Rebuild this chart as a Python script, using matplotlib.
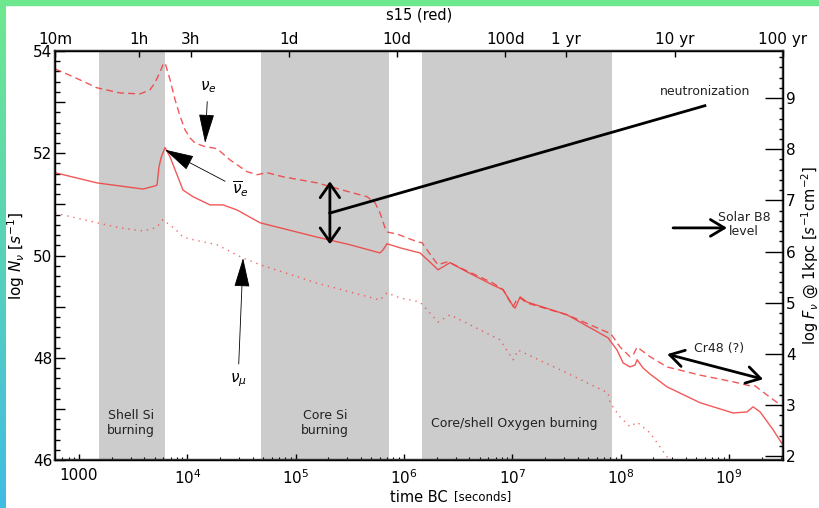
import numpy as np
import matplotlib
matplotlib.use("Agg")
import matplotlib.pyplot as plt
from matplotlib.patches import Rectangle
from matplotlib.ticker import MultipleLocator, FuncFormatter, NullFormatter, FixedLocator

# ---------------- data (log10 time [s], log N) ----------------
nue_logt = [2.778, 2.963, 3.166, 3.378, 3.563, 3.655, 3.701, 3.748, 3.775, 3.794,
            3.840, 3.886, 3.932, 3.978, 4.025, 4.071, 4.163, 4.274, 4.394, 4.551,
            4.643, 4.736, 4.883, 5.197, 5.502, 5.659, 5.733, 5.779, 5.825, 5.843,
            5.936, 6.121, 6.167, 6.259, 6.314, 6.407, 6.518, 6.702, 6.822, 6.915,
            7.007, 7.035, 7.072, 7.136, 7.506, 7.875, 7.903, 7.995, 8.087, 8.115,
            8.152, 8.272, 8.429, 8.734, 9.038, 9.195, 9.241, 9.352, 9.499]
nue_logN = [53.65, 53.48, 53.28, 53.18, 53.16, 53.24, 53.38, 53.59, 53.73, 53.77,
            53.44, 53.05, 52.73, 52.46, 52.30, 52.20, 52.13, 52.09, 51.87, 51.64,
            51.58, 51.62, 51.54, 51.42, 51.24, 51.15, 51.03, 50.83, 50.54, 50.46,
            50.42, 50.27, 50.25, 49.97, 49.82, 49.88, 49.76, 49.58, 49.46, 49.33,
            49.00, 49.11, 49.17, 49.07, 48.84, 48.50, 48.49, 48.21, 48.02, 48.05,
            48.21, 48.02, 47.82, 47.66, 47.53, 47.45, 47.45, 47.27, 47.04]

anue_logt = [2.778, 3.166, 3.378, 3.591, 3.701, 3.720, 3.738, 3.757, 3.775, 3.794,
             3.840, 3.886, 3.960, 4.052, 4.209, 4.329, 4.459, 4.671, 5.197, 5.502,
             5.779, 5.807, 5.843, 5.964, 6.148, 6.241, 6.314, 6.425, 6.582, 6.822,
             6.915, 7.007, 7.026, 7.072, 7.136, 7.506, 7.884, 7.967, 8.023, 8.087,
             8.134, 8.152, 8.207, 8.272, 8.429, 8.734, 9.038, 9.167, 9.223, 9.288,
             9.408, 9.499]
anue_logN = [51.62, 51.42, 51.36, 51.30, 51.36, 51.38, 51.73, 51.91, 52.01, 52.11,
             51.93, 51.68, 51.28, 51.15, 50.99, 50.99, 50.89, 50.64, 50.36, 50.21,
             50.05, 50.11, 50.23, 50.15, 50.05, 49.87, 49.72, 49.86, 49.68, 49.42,
             49.33, 49.01, 48.97, 49.19, 49.09, 48.84, 48.39, 48.15, 47.90, 47.82,
             47.86, 47.96, 47.80, 47.68, 47.43, 47.12, 46.92, 46.94, 47.04, 46.94,
             46.59, 46.29]

numu_logt = [2.778, 3.166, 3.378, 3.591, 3.701, 3.720, 3.775, 3.886, 3.960, 4.052,
             4.274, 4.514, 4.671, 5.197, 5.779, 5.843, 5.964, 6.148, 6.314, 6.425,
             6.887, 7.007, 7.053, 7.506, 7.884, 7.903, 7.995, 8.087, 8.152, 8.272,
             8.429, 8.475]
numu_logN = [50.83, 50.64, 50.54, 50.48, 50.54, 50.56, 50.70, 50.52, 50.36, 50.31,
             50.21, 49.95, 49.82, 49.46, 49.13, 49.27, 49.17, 49.09, 48.70, 48.84,
             48.35, 47.96, 48.15, 47.70, 47.31, 47.12, 46.84, 46.65, 46.74, 46.53,
             46.06, 45.90]

# burning phases: (start [s], end [s], label)
phase_start = [1.53e3, 4.8e4, 1.47e6]
phase_end = [6.2e3, 7.3e5, 8.3e7]
phase_labels = ["Shell Si\nburning", "Core Si\nburning", "Core/shell Oxygen burning"]
phase_label_t = [3.0e3, 1.87e5, 1.04e7]

# bottom axis ticks
bottom_tick_seconds = [1e3, 1e4, 1e5, 1e6, 1e7, 1e8, 1e9]
bottom_tick_labels = ["1000", "$10^{4}$", "$10^{5}$", "$10^{6}$", "$10^{7}$",
                      "$10^{8}$", "$10^{9}$"]

# top axis time labels
top_tick_seconds = [600, 3600, 10800, 86400, 864000, 8640000, 3.156e7, 3.156e8, 3.156e9]
top_tick_labels = ["10m", "1h", "3h", "1d", "10d", "100d", "1 yr", "10 yr", "100 yr"]

xlim = (600, 3.156e9)
ylim = (46, 54)
flux_offset = 44.078   # log10(4 pi (1 kpc)^2)

# ---------------- figure ----------------
W, H = 820, 508
fig = plt.figure(figsize=(W / 100, H / 100), dpi=100)
plt.rcParams['font.family'] = ['DejaVu Sans']

# decorative border
fig.add_artist(Rectangle((0, 1 - 5 / H), 1, 5 / H, transform=fig.transFigure,
                         color='#6ee88f', zorder=0))
gax = fig.add_axes([0, 0, 6 / W, 1 - 5 / H])
grad = np.linspace(0, 1, 256)[:, None]
c_top = np.array([110, 232, 143]) / 255
c_bot = np.array([64, 188, 228]) / 255
img = (c_top[None, None, :] * (1 - grad[:, :, None]) + c_bot[None, None, :] * grad[:, :, None])
gax.imshow(img, aspect='auto', extent=(0, 1, 0, 1))
gax.axis('off')

ax = fig.add_axes([55 / W, (H - 460) / H, 728 / W, 409 / H])
ax.set_xscale('log')
ax.set_xlim(*xlim)
ax.set_ylim(*ylim)

for s, e in zip(phase_start, phase_end):
    ax.axvspan(s, e, color='#cccccc', lw=0, zorder=0)
for t, lab in zip(phase_label_t, phase_labels):
    ax.text(t, 46.72, lab, ha='center', va='center', fontsize=9, color='#222222',
            linespacing=1.15)

red = '#f03c3c'
ax.plot(10 ** np.array(nue_logt), nue_logN, color=red, alpha=0.85, lw=1.0,
        ls=(0, (5, 3)))
ax.plot(10 ** np.array(anue_logt), anue_logN, color=red, alpha=0.85, lw=1.0)
ax.plot(10 ** np.array(numu_logt), numu_logN, color=red, alpha=0.75, lw=1.0,
        ls=(0, (1, 3.5)))

# annotations
arrow_kw = dict(arrowstyle='-|>,head_length=1.25,head_width=0.33', color='k',
                lw=0.6, mutation_scale=15, shrinkA=3, shrinkB=0)
ax.annotate(r'$\nu_e$', xy=(1.46e4, 52.2), xytext=(1.55e4, 53.3), ha='center',
            va='center', fontsize=11, arrowprops=arrow_kw)
ax.annotate(r'$\overline{\nu}_e$', xy=(6.2e3, 52.07), xytext=(3.06e4, 51.3),
            ha='center', va='center', fontsize=11, arrowprops=arrow_kw)
ax.annotate(r'$\nu_\mu$', xy=(3.27e4, 49.95), xytext=(2.94e4, 47.57), ha='center',
            va='center', fontsize=11, arrowprops=arrow_kw)

ax.annotate('', xy=(2.07e5, 51.45), xytext=(2.07e5, 50.22),
            arrowprops=dict(arrowstyle='<->,head_length=0.5,head_width=0.35',
                            lw=2, color='k', mutation_scale=20, shrinkA=0, shrinkB=0))
ax.plot([2.07e5, 6.0e8], [50.83, 52.93], color='k', lw=2)
ax.text(6.0e8, 53.2, 'neutronization', ha='center', va='center', fontsize=9,
        color='#222222')

ax.annotate('', xy=(9.6e8, 50.54), xytext=(3.05e8, 50.54),
            arrowprops=dict(arrowstyle='->,head_length=0.5,head_width=0.3', lw=2,
                            color='k', mutation_scale=20, shrinkA=0, shrinkB=0))
ax.text(1.38e9, 50.6, 'Solar B8\nlevel', ha='center', va='center', fontsize=9,
        color='#222222', linespacing=1.1)

ax.annotate('', xy=(2.07e9, 47.58), xytext=(2.69e8, 48.07),
            arrowprops=dict(arrowstyle='<->,head_length=0.5,head_width=0.3', lw=2,
                            color='k', mutation_scale=20, shrinkA=0, shrinkB=0))
ax.text(8.1e8, 48.19, 'Cr48 (?)', ha='center', va='center', fontsize=9,
        color='#222222')

# axes styling
for sp in ax.spines.values():
    sp.set_linewidth(1.6)
    sp.set_color('#333333')
ax.yaxis.set_major_locator(MultipleLocator(1))
ax.yaxis.set_minor_locator(MultipleLocator(0.2))
ax.yaxis.set_major_formatter(FuncFormatter(
    lambda v, p: f"{int(round(v))}" if int(round(v)) % 2 == 0 else ""))
ax.tick_params(axis='y', which='major', direction='in', length=7, width=1,
               labelsize=11, pad=2)
ax.tick_params(axis='y', which='minor', direction='in', length=3.5, width=1)
ax.xaxis.set_major_locator(FixedLocator(bottom_tick_seconds))
ax.set_xticklabels(bottom_tick_labels)
ax.xaxis.set_minor_formatter(NullFormatter())
ax.tick_params(axis='x', which='major', direction='in', length=4, width=1,
               labelsize=11, pad=6, top=False)
ax.tick_params(axis='x', which='minor', direction='in', length=2.5, width=0.8,
               top=False)
ax.set_ylabel(r'log $N_\nu$ [$s^{-1}$]', fontsize=11, labelpad=4)

# top axis
axt = ax.twiny()
axt.set_xscale('log')
axt.set_xlim(*xlim)
axt.set_xticks(top_tick_seconds)
axt.set_xticklabels(top_tick_labels)
axt.xaxis.set_minor_formatter(NullFormatter())
axt.tick_params(axis='x', which='major', direction='in', length=4, width=1,
                labelsize=11, pad=3)
axt.tick_params(axis='x', which='minor', length=0)
for sp in axt.spines.values():
    sp.set_linewidth(1.6)
    sp.set_color('#333333')

# right axis
axr = ax.twinx()
axr.set_ylim(ylim[0] - flux_offset, ylim[1] - flux_offset)
axr.yaxis.set_major_locator(MultipleLocator(1))
axr.yaxis.set_minor_locator(MultipleLocator(0.2))
axr.tick_params(axis='y', which='major', direction='in', length=13, width=1,
                labelsize=11, pad=2)
axr.tick_params(axis='y', which='minor', direction='in', length=3, width=1)
axr.set_ylabel(r'log $F_\nu$ @ 1kpc [$s^{-1}$cm$^{-2}$]', fontsize=10.5, labelpad=3)

fig.text(419 / W, 1 - 15 / H, 's15 (red)', ha='center', va='center', fontsize=10.5)
fig.text(390 / W, 1 - 497 / H, 'time BC', ha='left', va='center', fontsize=10.5)
fig.text(454 / W, 1 - 497 / H, '[seconds]', ha='left', va='center', fontsize=8.5)

fig.savefig('out.png', dpi=100)
